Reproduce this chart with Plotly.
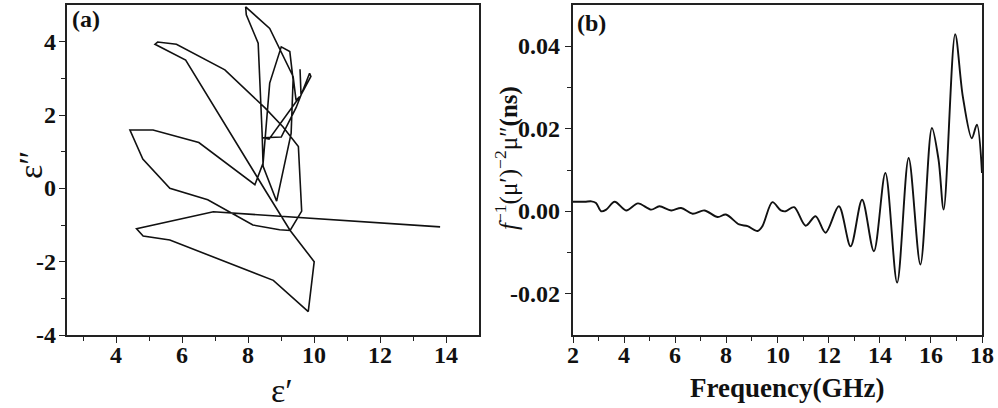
import plotly.graph_objects as go

# Panel (a): Cole-Cole curve (eps', eps'')
eps_real = [13.82, 6.94, 4.61, 4.81, 5.62, 8.76, 9.82, 10.0, 9.27, 8.56, 6.1, 5.17, 5.25, 5.82, 7.29,
            8.5, 9.05, 9.52, 9.62, 9.27, 8.95, 8.14, 6.77, 5.62, 4.8, 4.41, 5.11, 6.5, 8.2, 8.45,
            8.65, 9.0, 9.26, 9.36, 9.3, 8.86, 8.45, 8.42, 8.3, 7.94, 7.92, 8.65, 9.36, 9.45,
            9.56, 8.63, 8.45, 9.0, 9.45, 9.86, 9.9, 9.6, 9.57]
eps_imag = [-1.05, -0.64, -1.10, -1.30, -1.41, -2.51, -3.36, -2.0, -1.15, -0.12, 3.5, 3.93, 3.99, 3.93, 3.23,
            2.2, 1.68, 1.14, -0.62, -1.15, -1.13, -1.0, -0.31, 0.0, 0.8, 1.59, 1.59, 1.25, 0.1, 0.69,
            2.87, 3.86, 3.73, 2.96, 1.5, -0.35, 0.6, 1.5, 3.96, 4.73, 4.95, 4.36, 3.05, 2.4,
            2.5, 1.34, 1.38, 1.4, 2.2, 3.14, 3.05, 2.55, 3.25]

# Panel (b): f^-1 (mu')^-2 mu'' vs frequency
freq = [2.0, 2.46, 2.72, 2.9, 3.1, 3.3, 3.63, 4.08, 4.54, 5.06, 5.38, 5.84, 6.23, 6.68, 7.14, 7.66,
        7.98, 8.5, 8.83, 9.22, 9.41, 9.8, 10.13, 10.32, 10.65, 11.1, 11.49, 11.88, 12.4, 12.86,
        13.31, 13.77, 14.22, 14.68, 15.13, 15.59, 16.04, 16.3, 16.5, 16.95, 17.25, 17.6, 17.8, 18.0]
c0 = [0.0023, 0.0023, 0.0024, 0.002, 0.0, 0.0004, 0.0023, 0.0002, 0.0019, 0.0004, 0.0012, 0.0002,
      0.0008, -0.0006, 0.0002, -0.0014, -0.0008, -0.0032, -0.0036, -0.0048, -0.0036, 0.0022, 0.0002,
      0.0, 0.001, -0.0035, -0.0012, -0.0052, 0.0012, -0.0085, 0.0028, -0.0097, 0.0093, -0.0173,
      0.0129, -0.0129, 0.0202, 0.0125, 0.0004, 0.0429, 0.0278, 0.0177, 0.021, 0.0093]

# Tick values and labels
xa_ticks = [4, 6, 8, 10, 12, 14]
xa_labels = ["4", "6", "8", "10", "12", "14"]
ya_ticks = [-4, -2, 0, 2, 4]
ya_labels = ["-4", "-2", "0", "2", "4"]
xb_ticks = [2, 4, 6, 8, 10, 12, 14, 16, 18]
xb_labels = ["2", "4", "6", "8", "10", "12", "14", "16", "18"]
yb_ticks = [-0.02, 0.0, 0.02, 0.04]
yb_labels = ["-0.02", "0.00", "0.02", "0.04"]

FONT = "Liberation Serif"
W, H = 998, 408
TICK_SIZE = 24
INK = "#111111"

fig = go.Figure()
fig.add_trace(go.Scatter(x=eps_real, y=eps_imag, mode="lines",
                         line=dict(color=INK, width=1.6), xaxis="x", yaxis="y",
                         showlegend=False))
fig.add_trace(go.Scatter(x=freq, y=c0, mode="lines", line_shape="spline",
                         line=dict(color=INK, width=1.9, smoothing=0.9), xaxis="x2", yaxis="y2",
                         showlegend=False))

ax_common = dict(showline=True, linecolor="#222222", linewidth=1.6, mirror=True,
                 ticks="outside", ticklen=6, tickwidth=1.4, tickcolor="#222222",
                 showgrid=False, zeroline=False, showticklabels=False)

y_top = 1 - 5 / H
y_bot = 1 - 335 / H
minor_style = dict(ticks="outside", ticklen=4, tickcolor="#222222", tickwidth=1.2)

fig.update_layout(
    width=W, height=H,
    margin=dict(l=0, r=0, t=0, b=0),
    paper_bgcolor="white", plot_bgcolor="white",
    font=dict(family=FONT, color=INK),
    xaxis=dict(domain=[67 / W, 479 / W], range=[2.5, 15], tickvals=xa_ticks,
               minor=dict(tickvals=[3, 5, 7, 9, 11, 13], **minor_style),
               anchor="y", **ax_common),
    yaxis=dict(domain=[y_bot, y_top], range=[-4, 5], tickvals=ya_ticks,
               minor=dict(tickvals=[-3, -1, 1, 3], **minor_style),
               anchor="x", **ax_common),
    xaxis2=dict(domain=[573 / W, 982 / W], range=[2, 18], tickvals=xb_ticks,
                minor=dict(tickvals=[3, 5, 7, 9, 11, 13, 15, 17], **minor_style),
                anchor="y2", **ax_common),
    yaxis2=dict(domain=[y_bot, y_top], range=[-0.03, 0.05], tickvals=yb_ticks,
                minor=dict(tickvals=[-0.01, 0.01, 0.03], **minor_style),
                anchor="x2", **ax_common),
)

tick_font = dict(family=FONT, size=TICK_SIZE, color=INK)
ann = []
# bold tick labels, positioned with the axes' own data coordinates
for xr, vals, labels in (("x", xa_ticks, xa_labels), ("x2", xb_ticks, xb_labels)):
    for v, s in zip(vals, labels):
        ann.append(dict(text="<b>%s</b>" % s, x=v, xref=xr, y=1 - 355 / H, yref="paper",
                        xanchor="center", yanchor="middle", showarrow=False, font=tick_font))
for yr, xpos, vals, labels in (("y", 58, ya_ticks, ya_labels), ("y2", 562, yb_ticks, yb_labels)):
    for v, s in zip(vals, labels):
        ann.append(dict(text="<b>%s</b>" % s, x=xpos / W, xref="paper", y=v, yref=yr,
                        xanchor="right", yanchor="middle", showarrow=False, font=tick_font))

ann.append(dict(text="<b>(a)</b>", x=70 / W, y=1 - 19 / H, xref="paper", yref="paper",
                xanchor="left", yanchor="middle", showarrow=False,
                font=dict(family=FONT, size=24, color=INK)))
ann.append(dict(text="<b>(b)</b>", x=575 / W, y=1 - 23 / H, xref="paper", yref="paper",
                xanchor="left", yanchor="middle", showarrow=False,
                font=dict(family=FONT, size=24, color=INK)))
ann.append(dict(text="ε′", x=282 / W, y=1 - 390 / H, xref="paper", yref="paper",
                xanchor="center", yanchor="middle", showarrow=False,
                font=dict(family=FONT, size=34, color=INK)))
ann.append(dict(text="ε″", x=30 / W, y=1 - 165 / H, xref="paper", yref="paper",
                xanchor="center", yanchor="middle", showarrow=False, textangle=-90,
                font=dict(family=FONT, size=34, color=INK)))
ann.append(dict(text="<b>Frequency(GHz)</b>", x=787 / W, y=1 - 388 / H, xref="paper", yref="paper",
                xanchor="center", yanchor="middle", showarrow=False,
                font=dict(family=FONT, size=27, color=INK)))
ann.append(dict(text="<i>f</i><sup>−1</sup>(μ′)<sup>−2</sup>μ″<b>(ns)</b>", x=507 / W, y=1 - 158 / H,
                xref="paper", yref="paper",
                xanchor="center", yanchor="middle", showarrow=False, textangle=-90,
                font=dict(family=FONT, size=25, color=INK)))
fig.update_layout(annotations=ann)

fig.write_html("out.html")
